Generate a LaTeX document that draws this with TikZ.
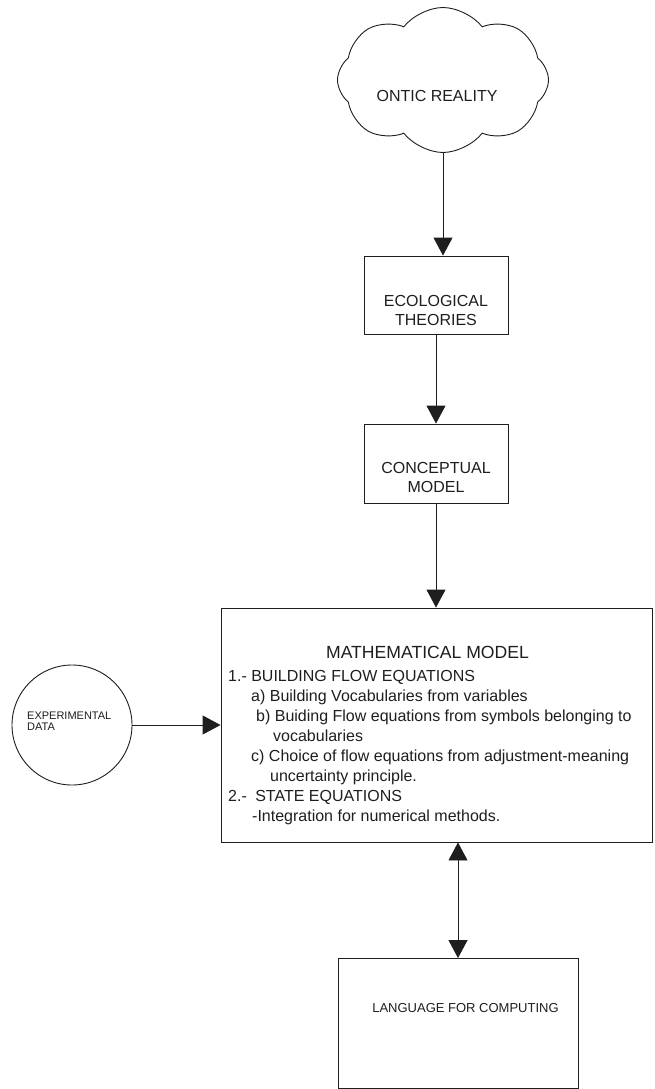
\documentclass[tikz,border=0pt]{standalone}
\usepackage{fontspec}
\setmainfont{Liberation Sans}
\usepackage{tikz}
\usetikzlibrary{
  arrows.meta,
  shapes.symbols,
  positioning
}
\definecolor{InkGray}{RGB}{30, 30, 30}
\definecolor{TextGray}{RGB}{30, 30, 30}
\tikzset{
    flowbox/.style={rectangle, draw=InkGray, line width=0.9pt, inner sep=0pt},
    flowtext/.style={text=TextGray, align=center, inner sep=0pt, font=\fontsize{16}{19}\selectfont},
    flowarrow/.style={draw=InkGray, line width=0.9pt, -{Triangle[length=18pt, width=19pt]}},
    botharrow/.style={draw=InkGray, line width=0.9pt, {Triangle[length=18pt, width=19pt]}-{Triangle[length=18pt, width=19pt]}}
}

\begin{document}
\begin{tikzpicture}[x=1pt, y=1pt]
    \useasboundingbox (0,0) rectangle (654,-1089);

    % cloud at the top
    \node[cloud, cloud puffs=8, cloud puff arc=105, cloud ignores aspect, draw=InkGray, line width=0.9pt,
          minimum width=211pt, minimum height=145pt] (ontic) at (443,-80) {};
    \node[flowtext] (onticlabel) at (437,-96) {ONTIC REALITY};

    % the two small boxes
    \node[flowbox, minimum width=144pt, minimum height=78pt] (eco) at (436,-295) {};
    \node[flowtext] (ecolabel) at (436,-310) {ECOLOGICAL\\THEORIES};
    \node[flowbox, minimum width=144pt, minimum height=79pt] (concept) at (436,-463.5) {};
    \node[flowtext] (conceptlabel) at (436,-477) {CONCEPTUAL\\MODEL};

    % mathematical model
    \node[flowbox, minimum width=431pt, minimum height=234pt] (math) at (436.5,-725) {};
    \node[text=TextGray, anchor=base, inner sep=0pt, font=\fontsize{17.6}{20}\selectfont] (mathtitle) at (427.5,-658) {MATHEMATICAL MODEL};
    \node[text=TextGray, anchor=north west, align=left, inner sep=0pt, font=\fontsize{16}{20}\selectfont] (mathbody) at (228,-670.5) {
        1.- BUILDING FLOW EQUATIONS\\
        \hspace*{23pt}a) Building Vocabularies from variables\\
        \hspace*{28pt}b) Buiding Flow equations from symbols belonging to\\
        \hspace*{45pt}vocabularies\\
        \hspace*{23pt}c) Choice of flow equations from adjustment-meaning\\
        \hspace*{42pt}uncertainty principle.\\
        2.-\hspace{4pt} STATE EQUATIONS\\
        \hspace*{24pt}-Integration for numerical methods.
    };

    % experimental data
    \node[circle, draw=InkGray, line width=0.9pt, minimum size=120pt, inner sep=0pt] (expdata) at (72,-725) {};
    \node[text=TextGray, anchor=north west, align=left, inner sep=0pt, font=\fontsize{11}{11.5}\selectfont] (explabel) at (27,-711.7) {EXPERIMENTAL\\DATA};

    % language box
    \node[flowbox, minimum width=240pt, minimum height=130pt] (lang) at (458,-1023.5) {};
    \node[flowtext, font=\fontsize{13}{15}\selectfont] (langlabel) at (465.5,-1007.7) {LANGUAGE FOR COMPUTING};

    % connectors
    \draw[flowarrow] (ontic.south) -- (ontic.south |- eco.north);
    \draw[flowarrow] (eco.south) -- (concept.north);
    \draw[flowarrow] (concept.south) -- (concept.south |- math.north);
    \draw[flowarrow] (expdata.east) -- (math.west |- expdata.east);
    \draw[botharrow] (lang.north |- math.south) -- (lang.north);
\end{tikzpicture}
\end{document}
